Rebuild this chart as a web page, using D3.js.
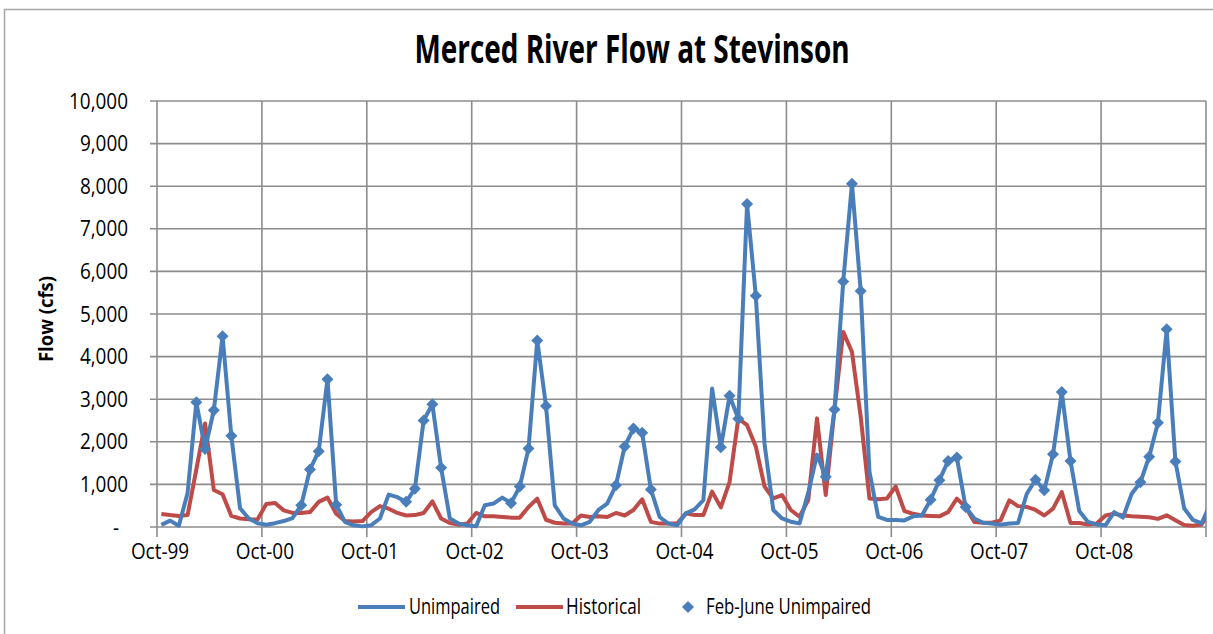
<!DOCTYPE html>
<html>
<head>
<meta charset="utf-8">
<script src="https://cdn.jsdelivr.net/npm/d3@7"></script>
<style>
  body { margin: 0; background: #fff; }
  svg { display: block; }
  text { font-family: "Open Sans", "Noto Sans", sans-serif; fill: #000; }
</style>
</head>
<body>
<script>
// monthly flows, Oct-99 .. Oct-09 (last month falls just past the axis and is clipped)
var unimpaired = [
  50, 150, 30, 800, 2930, 1830, 2740, 4480, 2140, 440, 200, 90,        // WY2000
  55, 90, 140, 210, 510, 1350, 1780, 3470, 520, 120, 40, 15,           // WY2001
  40, 200, 760, 700, 590, 900, 2500, 2880, 1390, 200, 80, 40,          // WY2002
  15, 510, 550, 690, 560, 950, 1840, 4380, 2840, 510, 200, 80,         // WY2003
  40, 120, 400, 550, 980, 1890, 2310, 2210, 880, 235, 80, 40,          // WY2004
  320, 415, 630, 3250, 1870, 3080, 2540, 7580, 5430, 1950, 400, 200,   // WY2005
  125, 85, 800, 1700, 1180, 2760, 5760, 8060, 5540, 1300, 240, 165,    // WY2006
  165, 155, 250, 270, 640, 1100, 1550, 1630, 470, 200, 100, 80,        // WY2007
  55, 80, 95, 780, 1110, 860, 1710, 3170, 1550, 375, 120, 60,          // WY2008
  40, 350, 220, 780, 1050, 1650, 2450, 4640, 1540, 440, 165, 85,       // WY2009
  550
];
var historical = [
  305, 280, 260, 280, 1350, 2430, 870, 770, 260, 200, 180, 175,
  540, 565, 390, 330, 330, 350, 590, 690, 310, 140, 130, 140,
  350, 490, 430, 330, 270, 280, 330, 600, 200, 95, 55, 80,
  330, 250, 250, 235, 220, 220, 470, 665, 170, 100, 80, 80,
  270, 235, 250, 235, 330, 270, 400, 650, 120, 80, 80, 80,
  320, 280, 280, 830, 460, 1060, 2550, 2390, 1890, 950, 670, 750,
  400, 240, 630, 2550, 750, 2750, 4580, 4110, 2590, 670, 650, 670,
  950, 375, 310, 270, 260, 250, 350, 665, 470, 120, 100, 100,
  155, 625, 490, 470, 400, 270, 430, 820, 95, 95, 60, 80,
  270, 310, 270, 250, 240, 230, 190, 275, 160, 45, 30, 60,
  380
];
var yearLabels = ["Oct-99", "Oct-00", "Oct-01", "Oct-02", "Oct-03",
                  "Oct-04", "Oct-05", "Oct-06", "Oct-07", "Oct-08"];
var yTicks = [0, 1000, 2000, 3000, 4000, 5000, 6000, 7000, 8000, 9000, 10000];
var febJuneMonths = [4, 5, 6, 7, 8]; // position in water year (Oct = 0)

var width = 1213, height = 634;
var plotL = 157, plotR = 1206, plotT = 101, plotB = 527;
var nMonths = 120;

var blue = "#4a7ebb", red = "#be4b48", grid = "#8c8c8c";

var x = d3.scaleLinear().domain([0, nMonths]).range([plotL, plotR]);
var y = d3.scaleLinear().domain([0, 10000]).range([plotB, plotT]);

// squeeze text horizontally, the source picture is narrow
function squeeze(sel, k) {
  sel.each(function() {
    var w = this.getComputedTextLength();
    d3.select(this).attr("textLength", w * k).attr("lengthAdjust", "spacingAndGlyphs");
  });
}

var svg = d3.select("body").append("svg")
    .attr("width", width)
    .attr("height", height);

svg.append("rect")
    .attr("x", 4.5).attr("y", 9.5)
    .attr("width", 1240).attr("height", 660)
    .attr("fill", "none")
    .attr("stroke", "#a6a6a6")
    .attr("stroke-width", 1.5);

svg.append("defs").append("clipPath").attr("id", "plot")
  .append("rect")
    .attr("x", plotL).attr("y", plotT - 10)
    .attr("width", plotR - plotL).attr("height", plotB - plotT + 20);

// grid
svg.append("g").selectAll("line")
    .data(yTicks)
    .enter().append("line")
    .attr("x1", plotL - 7).attr("x2", plotR)
    .attr("y1", function(d) { return y(d); })
    .attr("y2", function(d) { return y(d); })
    .attr("stroke", grid)
    .attr("stroke-width", 1.6);

var yearIdx = d3.range(0, nMonths + 1, 12);
svg.append("g").selectAll("line")
    .data(yearIdx)
    .enter().append("line")
    .attr("x1", function(d) { return x(d); })
    .attr("x2", function(d) { return x(d); })
    .attr("y1", plotT).attr("y2", plotB + 10)
    .attr("stroke", grid)
    .attr("stroke-width", 1.6);

// y labels
var yl = svg.append("g").selectAll("text")
    .data(yTicks)
    .enter().append("text")
    .attr("x", function(d) { return d === 0 ? 119 : 128; })
    .attr("y", function(d) { return y(d); })
    .attr("dy", "0.36em")
    .attr("text-anchor", "end")
    .style("font-size", "21px")
    .text(function(d) { return d === 0 ? "-" : d3.format(",")(d); });
squeeze(yl, 0.9);

// x labels
var xl = svg.append("g").selectAll("text")
    .data(yearLabels)
    .enter().append("text")
    .attr("x", function(d, i) { return x(i * 12) + 3; })
    .attr("y", 559)
    .attr("text-anchor", "middle")
    .style("font-size", "21px")
    .text(function(d) { return d; });
squeeze(xl, 0.9);

// axis title
svg.append("text")
    .attr("transform", "translate(53,319) rotate(-90)")
    .attr("text-anchor", "middle")
    .style("font-size", "19px")
    .style("font-weight", "bold")
    .attr("textLength", 86)
    .attr("lengthAdjust", "spacingAndGlyphs")
    .text("Flow (cfs)");

// chart title
svg.append("text")
    .attr("x", 632)
    .attr("y", 63)
    .attr("text-anchor", "middle")
    .style("font-size", "39px")
    .style("font-weight", "bold")
    .attr("textLength", 435)
    .attr("lengthAdjust", "spacingAndGlyphs")
    .text("Merced River Flow at Stevinson");

// series
var line = d3.line()
    .x(function(d, i) { return x(i + 0.5); })
    .y(function(d) { return y(d); });

var plot = svg.append("g").attr("clip-path", "url(#plot)");

plot.append("path")
    .datum(historical)
    .attr("d", line)
    .attr("fill", "none")
    .attr("stroke", red)
    .attr("stroke-width", 4)
    .attr("stroke-linejoin", "round");

plot.append("path")
    .datum(unimpaired)
    .attr("d", line)
    .attr("fill", "none")
    .attr("stroke", blue)
    .attr("stroke-width", 4)
    .attr("stroke-linejoin", "round");

var diamond = function(r) { return "M0," + (-r) + "L" + r + ",0L0," + r + "L" + (-r) + ",0Z"; };

var febJune = unimpaired.map(function(v, i) { return {i: i, v: v}; })
    .filter(function(d) { return d.i < nMonths && febJuneMonths.indexOf(d.i % 12) >= 0; });

plot.selectAll("path.mk")
    .data(febJune)
    .enter().append("path")
    .attr("class", "mk")
    .attr("transform", function(d) { return "translate(" + x(d.i + 0.5) + "," + y(d.v) + ")"; })
    .attr("d", diamond(6))
    .attr("fill", blue);

// legend
var lg = svg.append("g");
lg.append("line").attr("x1", 358).attr("x2", 405).attr("y1", 607).attr("y2", 607)
    .attr("stroke", blue).attr("stroke-width", 4);
lg.append("line").attr("x1", 516).attr("x2", 563).attr("y1", 607).attr("y2", 607)
    .attr("stroke", red).attr("stroke-width", 4);
lg.append("path").attr("transform", "translate(688,607)").attr("d", diamond(6)).attr("fill", blue);

var legendItems = [
  {label: "Unimpaired", x: 409, w: 91},
  {label: "Historical", x: 566, w: 75},
  {label: "Feb-June Unimpaired", x: 706, w: 165}
];
lg.selectAll("text")
    .data(legendItems)
    .enter().append("text")
    .attr("x", function(d) { return d.x; })
    .attr("y", 614)
    .style("font-size", "21px")
    .attr("textLength", function(d) { return d.w; })
    .attr("lengthAdjust", "spacingAndGlyphs")
    .text(function(d) { return d.label; });
</script>
</body>
</html>
